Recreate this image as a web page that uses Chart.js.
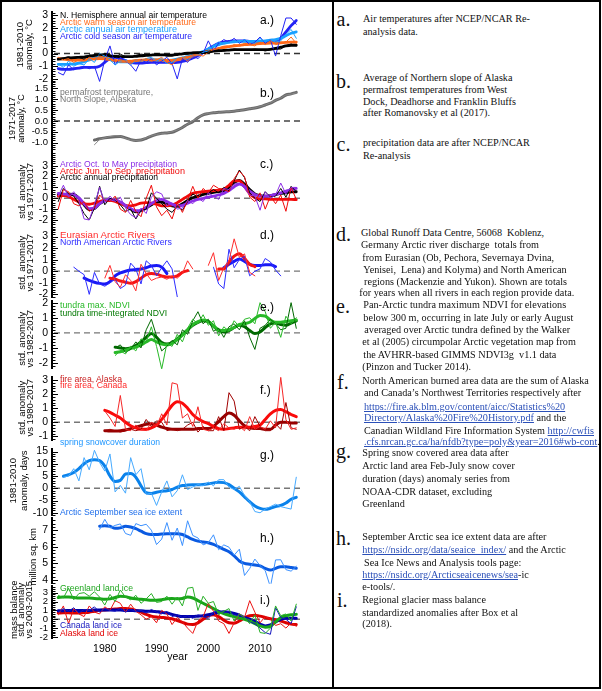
<!DOCTYPE html>
<html><head><meta charset="utf-8">
<script src="https://cdn.jsdelivr.net/npm/chart.js@4.4.1/dist/chart.umd.min.js"></script>
<style>
body{margin:0;background:#fff;}
#fig{position:relative;width:602px;height:691px;overflow:hidden;font-family:'Liberation Sans',Arial,sans-serif;background:#fff;}
canvas{position:absolute;left:0;}
.t{position:absolute;white-space:nowrap;line-height:1;}
.rot{position:absolute;white-space:nowrap;line-height:1;transform-origin:50% 50%;}
.s{position:absolute;white-space:nowrap;font-family:'Liberation Serif','Times New Roman',serif;font-size:10.2px;line-height:12px;color:#111;}
.L{position:absolute;font-family:'Liberation Serif','Times New Roman',serif;font-size:20px;line-height:20px;color:#111;}
.lk{color:#2a4fb8;text-decoration:underline;}
</style></head><body><div id="fig"></div>
<script>
const n=null;
const YEARS=[1971,1972,1973,1974,1975,1976,1977,1978,1979,1980,1981,1982,1983,1984,1985,1986,1987,1988,1989,1990,1991,1992,1993,1994,1995,1996,1997,1998,1999,2000,2001,2002,2003,2004,2005,2006,2007,2008,2009,2010,2011,2012,2013,2014,2015,2016,2017];
const X_TICKS=[1980,1990,2000,2010];

// a.) air temperature anomalies
const A_NH_THIN=[-0.45,-0.35,-0.25,-0.4,-0.3,-0.45,-0.1,-0.2,-0.1,0.0,-0.1,-0.3,-0.05,-0.25,-0.3,-0.15,-0.05,-0.1,-0.15,0.0,-0.1,-0.2,-0.2,-0.1,0.0,-0.05,0.1,0.1,0.0,0.1,0.2,0.25,0.2,0.25,0.35,0.3,0.3,0.3,0.35,0.3,0.2,0.3,0.35,0.35,0.6,0.75,0.6];
const A_NH_SMOOTH=[-0.45,-0.4,-0.35,-0.32,-0.3,-0.28,-0.22,-0.15,-0.1,-0.12,-0.18,-0.22,-0.25,-0.25,-0.25,-0.22,-0.18,-0.15,-0.12,-0.1,-0.1,-0.12,-0.12,-0.08,-0.02,0.02,0.05,0.07,0.08,0.12,0.18,0.22,0.25,0.27,0.3,0.3,0.3,0.3,0.3,0.3,0.3,0.33,0.4,0.5,0.6,0.65,0.65];
const A_WARM_THIN=[-0.3,-0.5,-0.4,-0.7,-0.5,-0.6,-0.3,-0.5,-0.2,-0.3,-0.4,-0.6,-0.5,-0.6,-0.8,-0.5,-0.6,-0.4,-0.6,-0.5,-0.3,-0.7,-0.9,-0.4,-0.3,-0.6,-0.2,-0.1,-0.2,0.1,0.3,0.4,0.4,0.5,0.7,0.6,0.8,0.7,0.6,0.9,0.7,1.0,0.7,0.8,0.9,1.3,0.8];
const A_WARM_SMOOTH=[-0.4,-0.45,-0.5,-0.52,-0.52,-0.5,-0.45,-0.42,-0.4,-0.42,-0.48,-0.55,-0.6,-0.62,-0.6,-0.55,-0.52,-0.5,-0.5,-0.5,-0.52,-0.55,-0.55,-0.5,-0.4,-0.3,-0.18,-0.05,0.08,0.2,0.3,0.4,0.5,0.55,0.6,0.65,0.7,0.72,0.75,0.78,0.8,0.82,0.83,0.85,0.88,0.9,0.9];
const A_ANN_THIN=[-0.8,-1.1,-0.6,-1.0,-0.8,-0.9,-0.4,-0.7,0.0,-0.2,-0.5,-0.9,-0.6,-0.5,-0.9,-0.5,-0.6,-0.4,-0.3,-0.6,-0.4,-0.8,-0.7,-0.4,-0.3,-0.5,-0.2,-0.1,0.1,0.2,0.6,0.9,0.8,0.9,1.0,0.9,1.1,0.9,0.8,1.2,0.9,1.1,0.9,1.0,1.5,1.9,1.2];
const A_ANN_SMOOTH=[-0.85,-0.85,-0.85,-0.82,-0.75,-0.65,-0.5,-0.35,-0.25,-0.3,-0.45,-0.6,-0.65,-0.65,-0.62,-0.58,-0.55,-0.52,-0.5,-0.5,-0.52,-0.55,-0.52,-0.45,-0.35,-0.25,-0.12,0.0,0.15,0.35,0.55,0.7,0.8,0.88,0.92,0.95,0.95,0.95,0.95,0.97,1.0,1.05,1.1,1.2,1.4,1.6,1.7];
const A_COLD_THIN=[-1.5,-1.7,-0.9,-1.3,-1.1,-1.0,-1.2,-1.0,-2.2,-0.5,0.6,-0.9,-0.3,-0.6,-0.9,-1.4,-0.5,-0.7,-0.4,-0.9,-0.6,-0.3,-0.8,-2.0,-0.4,-0.7,-0.2,-0.4,0.0,1.0,0.2,0.8,1.1,0.9,1.2,0.8,1.1,0.7,0.9,1.3,0.8,1.1,-0.2,1.4,2.8,2.8,2.3];
const A_COLD_SMOOTH=[-1.2,-1.25,-1.25,-1.2,-1.15,-1.1,-1.1,-1.1,-1.0,-0.7,-0.4,-0.3,-0.4,-0.55,-0.7,-0.75,-0.75,-0.72,-0.7,-0.7,-0.7,-0.7,-0.72,-0.7,-0.62,-0.5,-0.35,-0.15,0.1,0.35,0.6,0.8,0.9,0.95,1.0,1.0,1.0,0.95,0.92,0.9,0.9,0.9,0.95,1.2,1.7,2.2,2.6];

// b.) permafrost
const B_THIN=[n,n,n,n,n,n,n,-1.1,-0.85,-0.78,-0.72,-0.68,-0.7,-0.8,-0.88,-0.9,-0.88,-0.78,-0.68,-0.62,-0.58,-0.55,-0.5,-0.42,-0.3,-0.15,0.0,0.15,0.3,0.35,0.38,0.4,0.43,0.43,0.46,0.48,0.52,0.57,0.6,0.67,0.74,0.84,0.95,1.07,1.2,1.24,1.3];
const B_SMOOTH=[n,n,n,n,n,n,n,-0.88,-0.82,-0.78,-0.75,-0.73,-0.72,-0.78,-0.86,-0.9,-0.88,-0.8,-0.7,-0.62,-0.57,-0.55,-0.52,-0.42,-0.3,-0.15,-0.03,0.15,0.28,0.34,0.38,0.4,0.42,0.43,0.45,0.48,0.52,0.56,0.6,0.66,0.74,0.82,0.95,1.05,1.2,1.25,1.32];

// c.) precipitation
const C_PURPLE_THIN=[0.2,1.2,0.1,0.6,-0.2,-1.9,-2.0,-0.6,1.0,-0.4,0.2,-0.3,0.1,-0.9,-1.5,-1.8,-0.9,-1.4,0.1,0.6,0.4,-0.7,-0.4,-1.0,-0.9,-0.2,-0.5,0.0,-0.3,0.5,0.2,-0.1,0.9,0.8,1.3,1.4,0.9,0.3,0.2,-1.1,0.6,0.0,0.3,1.4,0.4,1.0,1.0];
const C_RED_THIN=[-1.0,0.8,0.6,-0.5,-0.7,-0.3,-1.2,-0.9,0.3,-0.2,-0.3,0.2,-1.0,-1.3,-0.2,-1.2,-1.7,0.0,1.2,-0.8,-1.6,-1.1,-1.9,-0.4,-1.3,-0.2,1.1,0.0,0.9,0.5,1.2,0.9,0.8,0.6,1.8,2.5,2.0,0.1,-0.3,0.5,-1.0,0.2,-0.5,0.3,-1.2,1.0,-0.1];
const C_BLACK_THIN=[-0.3,0.9,0.4,0.2,-0.5,-1.4,-2.0,-0.9,1.1,-0.6,0.0,-0.2,-0.6,-1.2,-1.0,-1.9,-1.1,-1.0,0.5,0.0,-0.5,-1.0,-1.3,-0.7,-1.1,-0.3,0.4,0.1,0.3,0.5,0.8,0.5,1.0,0.7,1.6,2.6,1.9,0.5,0.0,-0.3,0.6,0.1,0.2,0.9,0.1,1.1,0.6];
const C_PURPLE_SMOOTH=[0.45,0.4,0.35,0.3,0.05,-0.5,-0.95,-0.9,-0.5,-0.2,-0.1,-0.15,-0.35,-0.65,-0.95,-1.15,-1.1,-0.85,-0.5,-0.2,-0.1,-0.3,-0.55,-0.7,-0.65,-0.45,-0.25,-0.1,0.0,0.1,0.2,0.3,0.45,0.7,1.05,1.3,1.1,0.65,0.35,0.2,0.2,0.25,0.35,0.5,0.65,0.8,0.9];
const C_RED_SMOOTH=[0.2,0.25,0.15,-0.1,-0.35,-0.5,-0.55,-0.45,-0.3,-0.2,-0.2,-0.3,-0.5,-0.65,-0.7,-0.6,-0.45,-0.4,-0.45,-0.55,-0.7,-0.7,-0.6,-0.4,-0.1,0.2,0.45,0.55,0.6,0.65,0.7,0.75,0.85,1.2,1.6,1.6,1.1,0.4,0.05,-0.05,-0.05,-0.1,-0.1,-0.1,-0.1,-0.1,-0.12];
const C_BLACK_SMOOTH=[0.3,0.35,0.38,0.35,0.0,-0.6,-1.05,-0.95,-0.5,-0.25,-0.15,-0.2,-0.4,-0.7,-1.0,-1.25,-1.15,-0.9,-0.6,-0.35,-0.35,-0.55,-0.7,-0.75,-0.5,-0.2,0.05,0.2,0.35,0.45,0.55,0.62,0.7,1.0,1.45,1.65,1.3,0.8,0.4,0.25,0.2,0.25,0.35,0.45,0.5,0.58,0.6];

// d.) river discharge
const D_EUR_THIN=[n,n,n,n,n,n,n,n,n,-0.6,0.5,-0.9,-1.4,-0.3,-0.8,-1.7,0.6,-0.2,-0.8,-0.6,-0.5,-0.7,-0.4,-0.6,-0.2,0.9,0.2,n,n,0.5,1.6,-0.8,0.3,0.9,2.8,1.2,1.5,-0.1,-0.4,n,n,n,n,n,n,n,n];
const D_NA_THIN=[n,n,n,0.35,0.0,-0.3,-2.0,-0.1,-1.1,-1.3,-1.0,-0.7,-1.5,-1.2,0.7,0.2,-1.1,0.9,0.5,-0.4,0.3,0.9,0.2,-2.2,n,n,n,n,n,n,0.35,-1.1,-1.5,1.9,0.3,1.0,1.3,-0.4,0.0,0.2,1.1,0.8,0.1,-0.4,n,n,n];
const D_EUR_SMOOTH=[n,n,n,n,n,n,n,n,n,n,-0.6,-0.7,-0.85,-0.95,-1.05,-0.9,-0.6,-0.3,-0.2,-0.25,-0.4,-0.5,-0.5,-0.4,-0.1,0.05,n,n,n,n,n,0.2,0.2,0.8,1.3,1.5,1.1,0.6,0.4,n,n,n,n,n,n,n,n];
const D_NA_SMOOTH=[n,n,n,n,n,-0.6,-0.8,-0.95,-1.05,-1.1,-0.9,-0.4,-0.15,0.0,0.1,0.15,0.2,0.3,0.45,0.5,0.35,-0.2,n,n,n,n,n,n,n,n,n,n,0.3,0.6,0.85,1.05,0.85,0.6,0.5,0.5,0.55,0.55,0.4,n,n,n,n];

// e.) tundra NDVI
const E_LIGHT_THIN=[n,n,n,n,n,n,n,n,n,n,n,-1.5,-1.2,-1.4,-0.9,-1.2,-0.4,-0.6,0.4,-0.9,-2.4,-0.7,-0.9,-0.1,-0.6,0.3,0.9,0.6,1.2,0.5,0.8,-0.2,0.4,0.1,0.8,0.4,0.9,1.0,0.6,2.0,1.4,0.3,0.7,-0.3,1.1,0.6,1.0];
const E_DARK_THIN=[n,n,n,n,n,n,n,n,n,n,n,-1.0,-0.8,-1.3,-1.1,-0.6,-1.0,0.2,0.9,-0.2,-1.2,-0.9,-0.5,-0.8,0.2,-0.1,0.8,1.4,0.6,0.9,0.1,0.3,-0.3,0.4,0.6,0.2,0.8,-0.3,-1.1,0.3,0.5,0.9,0.6,0.2,0.3,2.0,0.3];
const E_LIGHT_SMOOTH=[n,n,n,n,n,n,n,n,n,n,n,-1.3,-1.25,-1.15,-1.05,-0.95,-0.8,-0.6,-0.45,-0.6,-0.75,-0.8,-0.7,-0.45,-0.15,0.2,0.55,0.75,0.85,0.75,0.45,0.2,0.15,0.2,0.35,0.55,0.6,0.7,0.95,1.15,1.1,0.85,0.7,0.7,0.75,0.8,0.85];
const E_DARK_SMOOTH=[n,n,n,n,n,n,n,n,n,n,n,-0.95,-1.0,-1.05,-1.0,-0.85,-0.6,-0.3,-0.05,-0.3,-0.65,-0.75,-0.65,-0.4,-0.1,0.2,0.5,0.7,0.8,0.75,0.45,0.15,0.05,0.15,0.35,0.5,0.4,0.15,-0.05,0.05,0.35,0.6,0.65,0.55,0.5,0.65,0.8];

// f.) fire area
const F_CAN_THIN=[n,n,n,n,n,n,n,n,n,0.8,0.3,-0.3,1.9,-0.5,-0.6,-0.2,-0.5,-0.6,0.0,-0.3,0.6,-0.2,2.8,2.7,0.3,0.6,-0.3,1.1,-0.5,-0.6,-0.4,-0.6,-0.1,-0.4,-0.5,-0.3,-0.6,0.4,-0.5,-0.3,-0.5,0.1,-0.4,3.2,0.2,-0.5,-0.4];
const F_AK_THIN=[n,n,n,n,n,n,n,n,n,-0.6,-0.5,-0.6,-0.7,-0.6,-0.5,-0.6,-0.5,0.2,-0.3,0.1,0.0,-0.6,-0.5,-0.6,-0.5,-0.2,0.0,-0.7,-0.3,-0.6,-0.6,0.4,-0.6,2.1,1.5,-0.5,-0.3,-0.6,0.4,-0.3,-0.6,-0.6,-0.1,-0.5,1.4,-0.4,-0.5];
const F_CAN_SMOOTH=[n,n,n,n,n,n,n,n,n,0.85,0.7,0.5,0.3,0.0,-0.25,-0.4,-0.5,-0.5,-0.4,-0.2,0.2,0.7,1.2,1.45,1.35,1.0,0.55,0.25,0.05,-0.1,-0.3,-0.45,-0.5,-0.45,-0.4,-0.35,-0.35,-0.35,-0.3,-0.2,0.2,0.6,0.85,0.9,0.75,0.55,0.4];
const F_AK_SMOOTH=[n,n,n,n,n,n,n,n,n,-0.6,-0.62,-0.62,-0.6,-0.55,-0.45,-0.35,-0.25,-0.15,-0.1,-0.2,-0.35,-0.45,-0.5,-0.5,-0.5,-0.5,-0.5,-0.45,-0.45,-0.45,-0.3,0.05,0.4,0.65,0.5,0.1,-0.25,-0.4,-0.45,-0.45,-0.5,-0.5,-0.2,0.0,0.0,-0.05,-0.05];

// g.) spring snow cover duration
const G_THIN=[n,4.5,5.0,8.0,3.0,12.5,7.5,15.5,10.5,7.0,14.0,-1.5,1.2,-2.0,12.5,5.5,8.0,-2.5,-2.0,-7.0,-1.5,3.0,-3.5,-1.0,5.5,-0.5,0.5,1.5,1.0,2.5,1.0,3.5,3.5,0.5,-0.5,0.8,-3.0,-5.5,-9.5,-10.0,-8.5,-7.5,-6.5,-7.5,-8.0,-8.5,4.5];
const G_SMOOTH=[n,4.9,5.5,6.4,8.0,10.0,11.3,11.6,11.3,9.0,5.0,2.8,3.2,5.8,6.0,4.5,1.0,-1.8,-2.1,-1.6,-1.2,-1.0,-0.5,0.5,1.1,1.3,1.4,1.4,1.5,1.8,2.2,2.5,2.3,1.5,0.0,-1.5,-3.5,-5.5,-7.2,-8.2,-8.6,-8.2,-7.5,-7.0,-6.0,-4.5,-3.7];

// h.) September sea ice extent (million sq. km)
const H_THIN=[n,n,n,n,n,n,n,n,7.05,7.67,7.14,7.30,7.39,6.81,6.70,7.41,7.28,7.37,7.01,6.14,6.47,7.47,6.40,7.14,6.08,7.58,6.69,6.54,6.12,6.25,6.73,5.83,6.12,5.98,5.50,5.86,4.27,4.69,5.26,4.87,4.56,3.57,5.21,5.22,4.62,4.53,4.82];
const H_SMOOTH=[n,n,n,n,n,n,n,n,7.25,7.28,7.25,7.12,7.15,7.25,7.2,7.1,6.95,6.8,6.75,6.75,6.78,6.8,6.8,6.8,6.75,6.6,6.45,6.35,6.3,6.25,6.15,6.0,5.85,5.7,5.45,5.15,5.0,4.95,4.9,4.85,4.7,4.6,4.7,4.8,4.8,4.75,4.7];

// i.) land ice mass balance
const I_GR_THIN=[2.7,2.4,3.5,2.2,2.9,3.0,2.6,3.1,2.5,1.6,2.8,2.0,3.3,2.5,2.2,2.7,1.8,2.3,2.9,1.9,2.0,2.6,1.7,2.5,1.5,3.5,3.6,1.0,2.6,1.8,2.0,0.5,0.9,1.2,-0.2,0.6,0.2,-0.5,0.5,-1.5,-1.6,-1.0,1.5,0.4,0.6,-0.2,1.7];
const I_CA_THIN=[0.8,1.2,0.9,1.3,0.7,1.1,1.0,1.4,0.8,1.2,1.0,0.9,1.2,0.8,1.1,0.9,1.0,0.7,1.1,0.8,0.6,0.9,0.3,0.5,0.2,0.4,0.1,0.5,0.3,0.1,0.8,1.0,0.7,0.9,0.5,0.4,0.2,-0.3,-0.5,-1.0,-1.5,-1.7,1.3,0.2,0.0,-0.5,1.4];
const I_AK_THIN=[0.5,1.5,-0.5,1.2,0.6,0.3,1.5,0.8,0.6,1.4,1.0,2.1,1.8,0.8,1.7,0.9,0.5,0.0,0.3,-0.4,1.0,0.6,-0.6,0.2,-0.3,-1.0,-1.6,-0.2,0.3,1.8,0.9,-0.2,-0.5,-1.6,-0.4,0.6,0.2,2.1,0.8,-0.4,0.3,0.0,-0.7,-0.5,-1.0,-0.4,-0.8];
const I_GR_SMOOTH=[2.45,2.5,2.5,2.45,2.4,2.4,2.4,2.35,2.3,2.25,2.3,2.45,2.6,2.55,2.4,2.3,2.25,2.2,2.15,2.15,2.2,2.3,2.35,2.3,2.35,2.5,2.4,2.1,1.8,1.5,1.2,0.9,0.65,0.45,0.3,0.15,0.0,-0.2,-0.5,-0.75,-0.9,-0.8,-0.3,0.2,0.4,0.5,0.55];
const I_CA_SMOOTH=[0.95,0.95,1.0,1.0,1.0,1.0,1.0,1.05,1.05,1.05,1.05,1.05,1.05,1.0,1.0,0.95,0.95,0.9,0.9,0.85,0.8,0.7,0.55,0.4,0.3,0.3,0.3,0.35,0.4,0.5,0.65,0.8,0.85,0.8,0.65,0.45,0.2,0.0,-0.25,-0.55,-0.75,-0.65,-0.3,0.0,0.1,0.1,0.1];
const I_AK_SMOOTH=[0.7,0.72,0.72,0.7,0.7,0.75,0.8,0.9,1.0,1.05,1.1,1.15,1.2,1.2,1.15,1.0,0.8,0.55,0.35,0.25,0.2,0.15,0.05,-0.15,-0.35,-0.55,-0.6,-0.4,0.0,0.4,0.5,0.3,-0.1,-0.4,-0.45,-0.2,0.15,0.4,0.45,0.35,0.2,0.05,-0.05,-0.2,-0.4,-0.55,-0.6];

// y tick labels per panel
const TICKS_A=[-2,-1,0,1,2,3];
const TICKS_B=[-1,-0.5,0,0.5,1,1.5];
const TICKS_C=[-2,-1,0,1,2,3];
const TICKS_D=[-2,-1,0,1,2,3];
const TICKS_E=[-2,-1,0,1,2];
const TICKS_F=[-1,0,1,2,3];
const TICKS_G=[-10,-5,0,5,10,15];
const TICKS_H=[4,5,6,7];
const TICKS_I=[-2,-1,0,1,2,3];

Chart.defaults.font.family="'Liberation Sans', Arial, sans-serif";
const fig=document.getElementById('fig');
const XMIN=1969.8, XMAX=2018.3, PAD=10;
const ORANGE='rgb(255,105,25)', LBLUE='rgb(25,160,255)', BLUE='rgb(35,35,245)';
const PURPLE='rgb(140,45,230)', RED='rgb(240,10,10)';
const LGREEN='rgb(40,185,40)', DGREEN='rgb(0,105,0)';

const thin=(d,c)=>({d,c,w:1});
const thick=(d,c,w)=>({d,c,w:w||2.8});
const PANELS=[
 {top:12,bottom:83,min:-2.38,max:3.25,ticks:TICKS_A,minor:0.2,fs:10.5,dash:'#333',sets:[thin(A_NH_THIN,'#000'),thin(A_WARM_THIN,ORANGE),thin(A_ANN_THIN,LBLUE),thin(A_COLD_THIN,BLUE),thick(A_NH_SMOOTH,'#000'),thick(A_WARM_SMOOTH,ORANGE),thick(A_ANN_SMOOTH,LBLUE),thick(A_COLD_SMOOTH,BLUE)]},
 {top:82,bottom:150,min:-1.34,max:1.8,ticks:TICKS_B,minor:0.1,fs:9.5,fmt:v=>v.toFixed(1),dash:'#444',sets:[thin(B_THIN,'#888'),thick(B_SMOOTH,'#6a6a6a',3)]},
 {top:152,bottom:228,min:-2.8,max:4.23,ticks:TICKS_C,minor:0.2,fs:10.5,dash:'#777',sets:[thin(C_PURPLE_THIN,PURPLE),thin(C_RED_THIN,RED),thin(C_BLACK_THIN,'#000'),thick(C_PURPLE_SMOOTH,PURPLE),thick(C_RED_SMOOTH,RED),thick(C_BLACK_SMOOTH,'#000')]},
 {top:228,bottom:297,min:-2.29,max:3.71,ticks:TICKS_D,minor:0.2,fs:10.5,dash:'#777',sets:[thin(D_EUR_THIN,'rgb(255,45,45)'),thin(D_NA_THIN,'rgb(45,45,255)'),thick(D_EUR_SMOOTH,'rgb(245,20,20)',3),thick(D_NA_SMOOTH,'rgb(25,25,245)',3)]},
 {top:301,bottom:368,min:-2.38,max:2.09,ticks:TICKS_E,minor:0.2,fs:10.5,dash:'#777',sets:[thin(E_LIGHT_THIN,LGREEN),thin(E_DARK_THIN,DGREEN),thick(E_LIGHT_SMOOTH,LGREEN,3),thick(E_DARK_SMOOTH,DGREEN,3)]},
 {top:377,bottom:440,min:-1.31,max:3.19,ticks:TICKS_F,minor:0.2,fs:10.5,dash:'#777',sets:[thin(F_CAN_THIN,'rgb(245,40,40)'),thin(F_AK_THIN,'rgb(160,0,0)'),thick(F_CAN_SMOOTH,'rgb(250,10,10)',3),thick(F_AK_SMOOTH,'rgb(150,0,0)',3)]},
 {top:449,bottom:515,min:-11.2,max:15.9,ticks:TICKS_G,minor:1,fs:10.5,dash:'#777',sets:[thin(G_THIN,'rgb(70,170,255)'),thick(G_SMOOTH,'rgb(10,130,235)',3)]},
 {top:518,bottom:583,min:3.77,max:7.73,ticks:TICKS_H,minor:0.2,fs:10.5,dash:null,sets:[thin(H_THIN,'rgb(60,145,255)'),thick(H_SMOOTH,'rgb(10,90,225)',3)]},
 {top:586,bottom:638,min:-2.16,max:3.75,ticks:TICKS_I,minor:0.2,fs:9.5,dash:'#777',sets:[thin(I_GR_THIN,'rgb(40,175,40)'),thin(I_CA_THIN,'rgb(20,20,190)'),thin(I_AK_THIN,'rgb(235,20,20)'),thick(I_GR_SMOOTH,'rgb(25,165,25)',3),thick(I_CA_SMOOTH,'rgb(0,0,170)',3),thick(I_AK_SMOOTH,'rgb(220,0,0)',3)]}
];

function build(p,last,H){
  const cv=document.createElement('canvas');
  cv.width=330;cv.height=H;cv.style.width='330px';cv.style.height=H+'px';cv.style.top='0px';
  fig.appendChild(cv);
  const deco={id:'deco',beforeDatasetsDraw(ch){
    const ctx=ch.ctx,a=ch.chartArea,y=ch.scales.y;ctx.save();
    if(p.dash){const py=y.getPixelForValue(0);ctx.strokeStyle=p.dash;ctx.lineWidth=1.3;ctx.setLineDash([6,4]);ctx.beginPath();ctx.moveTo(a.left+2,py);ctx.lineTo(a.right,py);ctx.stroke();ctx.setLineDash([]);}
    ctx.strokeStyle='#000';ctx.lineWidth=1;
    const lo=Math.ceil(p.min/p.minor-1e-9),hi=Math.floor(p.max/p.minor+1e-9);
    for(let k=lo;k<=hi;k++){const v=k*p.minor;const py=Math.round(y.getPixelForValue(v))+0.5;
      const major=p.ticks.some(t=>Math.abs(t-v)<1e-6);const len=major?5:2.5;
      ctx.beginPath();ctx.moveTo(a.left,py);ctx.lineTo(a.left+1+len,py);ctx.stroke();}
    ctx.restore();}};
  const chart=new Chart(cv,{type:'line',
    data:{datasets:p.sets.map(s=>({data:YEARS.map((yr,i)=>({x:yr,y:s.d[i]})),borderColor:s.c,borderWidth:s.w,pointRadius:0,fill:false,
      tension:s.w>1.5?0.4:0,cubicInterpolationMode:s.w>1.5?'monotone':'default',spanGaps:false,borderJoinStyle:'round',borderCapStyle:'round'}))},
    options:{responsive:false,maintainAspectRatio:false,animation:false,devicePixelRatio:1,events:[],
      layout:{padding:{top:PAD,bottom:last?0:PAD,left:0,right:27}},
      plugins:{legend:{display:false},tooltip:{enabled:false}},
      scales:{
        x:{type:'linear',min:XMIN,max:XMAX,display:last,
          afterBuildTicks:s=>{s.ticks=X_TICKS.map(v=>({value:v}));},
          grid:{display:false,drawTicks:false},border:{display:false},
          ticks:{font:{size:10.5},color:'#000',padding:4,maxRotation:0,autoSkip:false,callback:v=>String(v)},
          title:{display:false}},
        y:{type:'linear',min:p.min,max:p.max,
          afterFit:s=>{s.width=52;},
          afterBuildTicks:s=>{s.ticks=p.ticks.map(v=>({value:v}));},
          grid:{display:false,drawTicks:false},border:{display:true,color:'#000',width:2},
          ticks:{font:{size:p.fs},color:'#000',padding:4,autoSkip:false,callback:p.fmt||(v=>String(v))}}
      }},
    plugins:[deco]});
  return {cv,chart};
}
PANELS.forEach((p,idx)=>{
  const last=idx===PANELS.length-1;
  const want=p.bottom-p.top;
  let H=want+PAD*2+(last?30:0);
  let r=build(p,last,H);
  let ca=r.chart.chartArea;
  const got=ca.bottom-ca.top;
  if(Math.abs(want-got)>0.3){r.chart.destroy();r.cv.remove();H=Math.round(H+want-got);r=build(p,last,H);ca=r.chart.chartArea;}
  r.cv.style.top=(p.top-ca.top)+'px';
});

// text helpers
function txt(x,cy,s,color,fs,w){
  const d=document.createElement('div');d.className='t';
  d.style.left=x+'px';d.style.top=(cy-fs*0.5)+'px';d.style.fontSize=fs+'px';d.style.color=color;d.textContent=s;fig.appendChild(d);
  if(w){const nw=d.getBoundingClientRect().width;d.style.transformOrigin='0 50%';d.style.transform='scaleX('+(w/nw).toFixed(3)+')';}
  return d;}
function rot(cx,cy,s,fs){
  const d=document.createElement('div');d.className='rot';d.style.fontSize=fs+'px';d.textContent=s;fig.appendChild(d);
  const r=d.getBoundingClientRect();d.style.left=(cx-r.width/2)+'px';d.style.top=(cy-r.height/2)+'px';d.style.transform='rotate(-90deg)';return d;}

// x-axis title
(function(){const d=txt(0,656.5,'year','#000',10.5);const w=d.getBoundingClientRect().width;d.style.left=(177.5-w/2)+'px';})();

// legends inside panels
const LEG=[
 [60,15,'N. Hemisphere annual air temperature','#000',9.5,147],
 [60,22,'Arctic warm season air temperature',ORANGE,9.5,136],
 [60,29,'Arctic annual air temperature',LBLUE,9.5,117],
 [60,35.5,'Arctic cold season air temperature',BLUE,9.5,132],
 [60,92,'permafrost temperature,','#777',9.5,93],
 [60,98.5,'North Slope, Alaska','#777',9.5,76],
 [60,164,'Arctic Oct. to May precipitation',PURPLE,9.5,117],
 [60,170.7,'Arctic Jun. to Sep. precipitation',RED,9.5,125],
 [60,177,'Arctic annual precipitation','#000',9.5,98],
 [60,235,'Eurasian Arctic Rivers','rgb(255,45,45)',9.5,95],
 [60,241.7,'North American Arctic Rivers','rgb(45,45,255)',9.5,112],
 [60,305,'tundra max. NDVI',LGREEN,9.5,70],
 [60,313,'tundra time-integrated NDVI','rgb(0,120,0)',9.5,107],
 [60,378.5,'fire area, Alaska','rgb(200,30,30)',9.5,62],
 [60,385,'fire area, Canada','rgb(255,40,40)',9.5,67],
 [60,441.7,'spring snowcover duration','rgb(30,150,255)',9.5,100],
 [60,511.7,'Arctic September sea ice extent','rgb(30,110,235)',9.5,122],
 [60,588,'Greenland land ice','rgb(30,165,30)',9.5,73],
 [60,625,'Canada land ice','rgb(20,20,190)',9.5,62],
 [60,632.7,'Alaska land ice','rgb(225,0,0)',9.5,58]
];
LEG.forEach(l=>txt(l[0],l[1],l[2],l[3],l[4],l[5]));
[['a.)',20],['b.)',93],['c.)',164],['d.)',235],['e.)',307],['f.)',390],['g.)',455],['h.)',538],['i.)',600]].forEach(l=>txt(260,l[1],l[0],'#000',12));

// rotated axis titles
const YT=[
 [20,45,'1981-2010',9.5],[28.5,45,'anomaly, °C',9.5],
 [13,118,'1971-2017',9],[21,118,'anomaly, °C',9],
 [22,192,'std. anomaly',9.5],[30,192,'vs 1971-2017',9.5],
 [22,263,'std. anomaly',9.5],[30,263,'vs 1971-2017',9.5],
 [22,339,'std. anomaly',9.5],[30,339,'vs 1982-2017',9.5],
 [22,408,'std. anomaly',9.5],[30,408,'vs 1980-2017',9.5],
 [13,481,'1981-2010',9.5],[23,481,'anomaly, days',9.5],
 [33,557,'million sq. km',9.5],
 [13,610,'mass balance',9.5],[21,610,'std. anomaly',9.5],[28.5,610,'vs 2003-2015',9.5]
];
YT.forEach(t=>rot(t[0],t[1],t[2],t[3]));

// right-hand notes
const LETTERS=[['a.',336.5,25],['b.',336,87.3],['c.',336.5,150],['d.',336,240],['e.',336,311.5],['f.',337,387.5],['g.',336,456.7],['h.',336,544.3],['i.',337,606]];
LETTERS.forEach(l=>{const d=document.createElement('div');d.className='L';d.style.left=l[1]+'px';d.style.top=(l[2]-16)+'px';d.textContent=l[0];fig.appendChild(d);});
const NOTES=[
 [363,19.5,'Air temperatures after NCEP/NCAR Re-'],
 [363,31.7,'analysis data.'],
 [363,78,'Average of Northern slope of Alaska'],
 [363,90,'permafrost temperatures from West'],
 [363,102,'Dock, Deadhorse and Franklin Bluffs'],
 [363,113.5,'after Romanovsky et al (2017).'],
 [363,143,'precipitation data are after NCEP/NCAR'],
 [363,156,'Re-analysis'],
 [361,233,'Global Runoff Data Centre, 56068&nbsp; Koblenz,'],
 [361,245,'Germany Arctic river discharge&nbsp; totals from'],
 [362.3,257.7,'from Eurasian (Ob, Pechora, Severnaya Dvina,'],
 [363.3,270,'Yenisei,&nbsp; Lena) and Kolyma) and North American'],
 [364,281.7,'regions (Mackenzie and Yukon). Shown are totals'],
 [359.3,293.3,'for years when all rivers in each region provide data.'],
 [363.3,305,'Pan-Arctic tundra maximum NDVI for elevations'],
 [363.3,318,'below 300 m, occurring in late July or early August'],
 [364.3,330,'averaged over Arctic tundra defined by the Walker'],
 [362.3,341.7,'et al (2005) circumpolar Arctic vegetation map from'],
 [363.3,355,'the AVHRR-based GIMMS NDVI3g&nbsp; v1.1 data'],
 [362.3,366.7,'(Pinzon and Tucker 2014).'],
 [362.3,381,'North American burned area data are the sum of Alaska'],
 [364,393,'and Canada’s Northwest Territories respectively after'],
 [364,406.7,'<span class="lk">https://fire.ak.blm.gov/content/aicc/Statistics%20</span>'],
 [364,418,'<span class="lk">Directory/Alaska%20Fire%20History.pdf</span> and the'],
 [364,431,'Canadian Wildland Fire Information System <span class="lk">http://cwfis</span>'],
 [364,441.7,'<span class="lk">.cfs.nrcan.gc.ca/ha/nfdb?type=poly&amp;year=2016#wb-cont</span>.'],
 [362.3,453,'Spring snow covered area data after'],
 [362.3,466,'Arctic land area Feb-July snow cover'],
 [362.3,479,'duration (days) anomaly series from'],
 [362.3,491.7,'NOAA-CDR dataset, excluding'],
 [362.3,504,'Greenland'],
 [362.3,537,'September Arctic sea ice extent data are after'],
 [362.3,550,'<span class="lk">https://nsidc.org/data/seaice_index/</span> and the Arctic'],
 [364,562.7,'Sea Ice News and Analysis tools page:'],
 [362.3,575,'<span class="lk">https://nsidc.org/Arcticseaicenews/sea</span>-ic'],
 [362.3,587,'e-tools/.'],
 [362.3,600,'Regional glacier mass balance'],
 [362.3,612.7,'standardized anomalies after Box et al'],
 [362.3,624,'(2018).']
];
NOTES.forEach(l=>{const d=document.createElement('div');d.className='s';d.style.left=l[0]+'px';d.style.top=(l[1]-6.1)+'px';d.innerHTML=l[2];fig.appendChild(d);});

// frame
const fr=document.createElement('div');fr.style.cssText='position:absolute;left:0;top:0;width:601px;height:689px;border:2px solid #000;box-sizing:border-box;';fig.appendChild(fr);
const dv=document.createElement('div');dv.style.cssText='position:absolute;left:332px;top:0;width:1.5px;height:689px;background:#000;';fig.appendChild(dv);
</script></body></html>
